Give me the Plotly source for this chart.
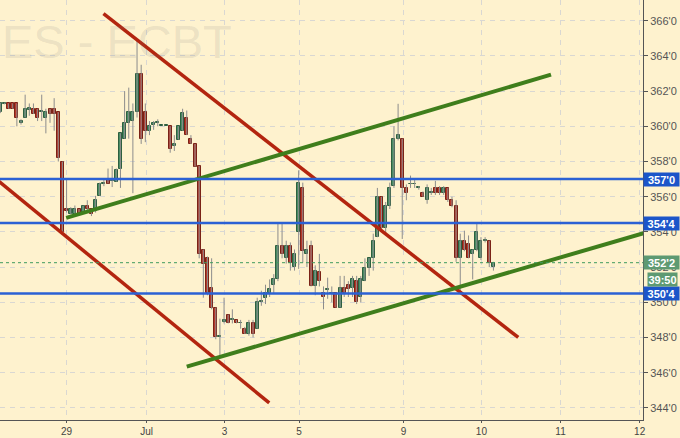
import numpy as np
import plotly.graph_objects as go

# hourly OHLC (soybean meal, late Jun - 10 Jul)
opens = [360.8, 361.28, 361.3, 361.3, 361.3, 360.2, 360.5, 360.95, 361.0, 361.0,
         360.8, 360.5, 361.0, 361.0, 360.8, 358.0, 355.3, 355.0, 355.0, 355.3,
         355.1, 355.5, 355.3, 355.2, 356.05, 356.75, 357.0, 356.9, 356.85, 357.6,
         359.3, 360.2, 360.3, 360.8, 363.0, 360.8, 359.75, 360.1, 360.2, 360.0,
         360.0, 360.0, 358.9, 359.25, 359.75, 360.5, 359.3, 359.0, 357.75, 353.0,
         352.5, 350.8, 349.7, 348.05, 348.9, 349.25, 349.0, 349.0, 348.8, 348.5,
         348.2, 348.8, 348.5, 350.0, 350.26, 350.5, 351.0, 351.3, 353.2, 352.5,
         353.2, 352.0, 354.0, 356.5, 352.75, 353.2, 350.9, 351.7, 350.5, 350.7,
         350.5, 350.5, 349.7, 350.8, 351.0, 350.8, 351.2, 350.3, 351.2, 351.97,
         352.5, 353.7, 356.0, 354.25, 355.5, 356.6, 359.3, 359.3, 356.5, 356.7,
         356.7, 356.5, 356.2, 355.8, 356.2, 356.5, 356.5, 356.2, 356.5, 355.8,
         355.5, 352.5, 353.5, 353.3, 352.75, 353.0, 352.5, 353.5, 353.5, 352.0]
highs = [361.35, 361.35, 361.3, 361.3, 361.3, 360.4, 361.8, 361.3, 361.3, 361.0,
         361.8, 361.0, 361.0, 361.6, 360.8, 358.0, 357.0, 355.4, 355.5, 355.3,
         355.5, 355.8, 355.3, 356.05, 356.8, 357.0, 357.6, 357.75, 357.6, 359.6,
         362.0, 362.2, 361.3, 364.9, 363.5, 361.3, 360.3, 360.3, 360.4, 360.0,
         360.0, 360.0, 359.5, 360.0, 361.0, 360.9, 359.5, 359.0, 357.75, 353.0,
         352.6, 352.5, 349.7, 349.07, 350.26, 349.3, 349.6, 349.0, 349.0, 348.6,
         349.0, 349.0, 350.26, 350.66, 351.0, 351.3, 351.6, 354.5, 354.5, 353.5,
         353.4, 353.0, 357.5, 356.8, 353.5, 353.5, 352.1, 352.75, 350.9, 351.4,
         350.9, 350.5, 351.5, 351.5, 351.2, 351.5, 351.5, 351.5, 352.5, 352.5,
         353.9, 356.5, 356.0, 355.7, 356.8, 360.0, 361.28, 359.3, 356.7, 357.2,
         357.0, 356.6, 356.3, 356.7, 356.5, 356.9, 356.6, 356.6, 356.5, 356.0,
         355.8, 353.9, 354.07, 353.8, 353.0, 354.5, 353.7, 353.7, 353.5, 352.3]
lows = [360.75, 361.25, 361.0, 361.0, 360.0, 360.1, 360.5, 360.6, 360.7, 360.3,
        360.3, 359.6, 360.2, 359.75, 358.0, 353.9, 355.1, 355.0, 355.0, 355.0,
        355.1, 355.2, 354.9, 355.1, 356.05, 356.6, 356.75, 356.55, 356.85, 356.5,
        359.3, 359.3, 356.2, 360.5, 359.0, 359.1, 359.5, 359.8, 360.0, 360.0,
        360.0, 358.5, 358.6, 359.25, 359.75, 359.5, 359.0, 357.7, 352.5, 350.26,
        350.4, 349.6, 347.9, 346.9, 348.8, 348.8, 348.8, 348.8, 348.5, 348.2,
        348.1, 348.0, 348.5, 349.8, 349.9, 350.3, 350.5, 351.2, 352.5, 352.2,
        351.8, 351.8, 351.9, 352.25, 352.0, 350.9, 350.4, 350.9, 349.6, 350.2,
        350.0, 349.7, 349.7, 350.3, 350.3, 350.3, 349.9, 350.0, 351.2, 351.5,
        351.8, 353.7, 354.0, 353.9, 355.3, 356.5, 359.2, 353.6, 355.8, 356.5,
        356.5, 356.4, 356.0, 355.6, 356.1, 356.1, 356.1, 356.1, 355.7, 355.4,
        352.3, 350.66, 352.9, 352.5, 351.3, 352.9, 352.4, 353.4, 352.0, 351.8]
closes = [361.3, 361.3, 361.0, 361.0, 360.5, 360.3, 361.0, 361.05, 360.7, 360.5,
          360.8, 360.8, 360.7, 360.7, 358.2, 354.0, 355.2, 355.3, 355.3, 355.0,
          355.5, 355.3, 355.0, 355.8, 356.7, 356.8, 356.75, 356.9, 357.5, 359.6,
          360.2, 360.8, 360.8, 363.0, 359.3, 359.75, 360.0, 360.2, 360.2, 360.0,
          360.0, 358.7, 359.0, 360.0, 360.77, 359.5, 359.0, 357.7, 352.75, 352.2,
          350.5, 349.7, 348.0, 348.1, 349.0, 348.8, 349.05, 348.8, 348.85, 348.2,
          348.8, 348.2, 350.0, 350.05, 350.5, 350.75, 351.3, 353.2, 352.75, 353.2,
          352.25, 352.75, 356.8, 352.9, 353.0, 350.9, 351.8, 351.2, 350.3, 350.7,
          350.5, 349.7, 350.8, 350.5, 350.77, 351.3, 350.0, 351.3, 351.97, 352.5,
          353.5, 356.0, 354.25, 355.5, 356.5, 359.3, 359.5, 356.5, 356.2, 356.75,
          356.7, 356.5, 356.0, 356.5, 356.2, 356.2, 356.2, 356.5, 355.8, 355.5,
          352.5, 353.5, 353.0, 352.5, 353.0, 354.0, 353.5, 353.5, 352.25, 352.25]

# day labels on the bar-index axis
day_pos = [16.0, 35.3, 54.1, 72.1, 97.3, 116.1, 135.2, 154.3]
day_labels = ["29", "Jul", "3", "5", "9", "10", "11", "12"]

# drawn trend lines: (bar index, price) start and end
red_lines = [((24.9, 366.4), (125.0, 348.0)), ((-1.0, 357.0), (64.9, 344.28))]
green_lines = [((15.9, 354.8), (132.9, 362.94)), ((45.0, 346.34), (158.0, 354.12))]
levels = [357.0, 354.5, 350.5]
level_labels = ["357'0", "354'4", "350'4"]
last_price = 352.25
last_label = "352'2"
timer_label = "39:50"

y_ticks = list(range(344, 367, 2))
x_range = [-0.07, 155.1]
y_range = [343.31, 367.18]

BG = "#fef2ce"
FONT = "Liberation Sans, Arial, sans-serif"

o = np.array(opens)
c = np.array(closes)
up = c >= o
idx = np.arange(len(o))

fig = go.Figure()

# wicks
wx, wy = [], []
for i, (h, l) in enumerate(zip(highs, lows)):
    wx += [i, i, None]
    wy += [l, h, None]
fig.add_trace(go.Scatter(x=wx, y=wy, mode="lines",
                         line=dict(color="#8c8c8c", width=1), hoverinfo="skip"))

# bodies
fig.add_trace(go.Bar(
    x=idx,
    base=np.minimum(o, c),
    y=np.maximum(np.abs(c - o), 0.05),
    width=0.72,
    marker=dict(color=np.where(up, "#4a8d64", "#b8392b"),
                line=dict(color=np.where(up, "#2e5f40", "#7a2216"), width=1)),
))

for (x0, y0), (x1, y1) in red_lines:
    fig.add_trace(go.Scatter(x=[x0, x1], y=[y0, y1], mode="lines",
                             line=dict(color="#b3250f", width=3.5)))
for (x0, y0), (x1, y1) in green_lines:
    fig.add_trace(go.Scatter(x=[x0, x1], y=[y0, y1], mode="lines",
                             line=dict(color="#3f7e1c", width=4)))

for lv in levels:
    fig.add_hline(y=lv, line=dict(color="#2b61d4", width=2.5))
fig.add_hline(y=last_price, line=dict(color="#3f9a5e", width=1, dash="dot"))

# price boxes on the right axis
for lv, txt in zip(levels, level_labels):
    fig.add_annotation(x=1, xref="paper", y=lv, yref="y", xanchor="left",
                       text=f"<b>{txt}</b>", showarrow=False, bgcolor="#1c55c9",
                       width=35, height=13, borderpad=0,
                       font=dict(family=FONT, size=11, color="white"))
fig.add_annotation(x=1, xref="paper", y=last_price, yref="y", xanchor="left",
                   text=f"<b>{last_label}</b>", showarrow=False, bgcolor="#5e9a72",
                   width=35, height=13, borderpad=0,
                   font=dict(family=FONT, size=11, color="white"))
fig.add_annotation(x=1, xref="paper", y=last_price, yref="y", xanchor="left",
                   yshift=-17, xshift=4, text=f"<b>{timer_label}</b>", showarrow=False,
                   bgcolor="#5e9a72", width=29, height=13, borderpad=0,
                   font=dict(family=FONT, size=11, color="white"))

# watermark
fig.add_annotation(x=0, xref="paper", y=0.9, yref="paper",
                   xanchor="left", yanchor="middle",
                   text="ES - ECBT", showarrow=False,
                   font=dict(family=FONT, size=47, color="rgba(120,120,120,0.15)"))

fig.update_layout(
    width=680, height=438,
    margin=dict(l=0, r=37, t=0, b=18),
    paper_bgcolor=BG, plot_bgcolor=BG,
    showlegend=False, bargap=0,
    font=dict(family=FONT, size=11, color="#555"),
)
fig.update_xaxes(range=x_range, tickvals=day_pos, ticktext=day_labels,
                 showgrid=True, gridcolor="#d9d7d2", griddash="5px,5px", gridwidth=1,
                 showline=True, linecolor="#555", linewidth=1,
                 ticks="outside", ticklen=2, tickcolor="#555", automargin=False,
                 tickfont=dict(size=10, color="#444"), zeroline=False)
fig.update_yaxes(range=y_range, side="right", tickvals=y_ticks,
                 ticktext=[f"{v}'0" for v in y_ticks],
                 showgrid=True, gridcolor="#d9d7d2", griddash="5px,5px", gridwidth=1,
                 showline=True, linecolor="#555", linewidth=1,
                 ticks="outside", ticklen=4, tickcolor="#555", automargin=False,
                 tickfont=dict(size=11, color="#555"), zeroline=False)

fig.write_html("out.html", config={"displayModeBar": False},
               post_script="document.body.style.margin='0';")
